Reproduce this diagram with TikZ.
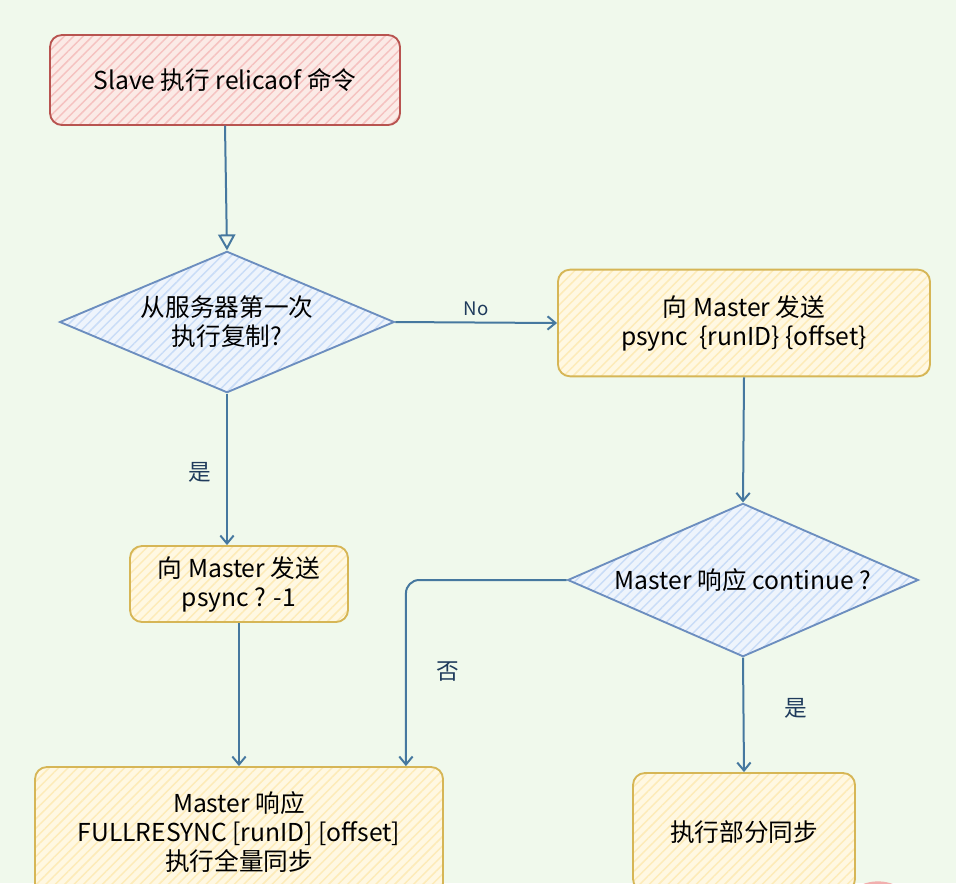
\documentclass[tikz,border=0pt]{standalone}
\usepackage{fontspec}
\setmainfont{Noto Sans CJK SC}
\usetikzlibrary{shapes.geometric,arrows.meta,patterns.meta,calc}
\definecolor{bg}{HTML}{F0F9EC}
\definecolor{redline}{HTML}{B85450}
\definecolor{redbase}{HTML}{FBEAE6}
\definecolor{redhatch}{HTML}{F5C2C0}
\definecolor{yelline}{HTML}{D6B656}
\definecolor{yelbase}{HTML}{FFF8E2}
\definecolor{yelhatch}{HTML}{FDEBB8}
\definecolor{blueline}{HTML}{6C8EBF}
\definecolor{bluebase}{HTML}{EEF4FC}
\definecolor{bluehatch}{HTML}{C9DCF7}
\definecolor{arrowc}{HTML}{46789F}
\definecolor{labelc}{HTML}{1F3B5C}
\definecolor{pinkc}{HTML}{F2AFAE}
\begin{document}
\begin{tikzpicture}[x=0.75pt,y=-0.75pt,
  txt/.style={font=\fontsize{18.5}{21.75}\selectfont, align=center, text=black},
  hatch/.style 2 args={preaction={fill=#1}, pattern={Lines[angle=45,distance=5pt,line width=1.1pt]}, pattern color=#2},
  redbox/.style={txt, draw=redline, line width=1.4pt, rounded corners=9pt, hatch={redbase}{redhatch}},
  yelbox/.style={txt, draw=yelline, line width=1.4pt, rounded corners=9pt, hatch={yelbase}{yelhatch}},
  decide/.style={txt, shape=diamond, draw=blueline, line width=1.4pt, inner sep=0pt, hatch={bluebase}{bluehatch}},
  conn/.style={draw=arrowc, line width=1.5pt, -{Straight Barb[length=6pt,width=10pt]}},
  lbl/.style={text=labelc, font=\fontsize{17}{20}\selectfont}
]
\fill[bg] (0,0) rectangle (956,883);
\useasboundingbox (0,0) rectangle (956,883);
\clip (0,0) rectangle (956,883);

\node[redbox, minimum width=262.5pt, minimum height=67.5pt] (start) at (225,80) {Slave 执行 relicaof 命令};

\node[decide, minimum width=251pt, minimum height=106pt, shape aspect=2.37] (d1) at (227,322) {从服务器第一次\\执行复制?};

\node[yelbox, minimum width=279pt, minimum height=80pt] (b2) at (744,323) {向 Master 发送\\psync\ \ \{runID\} \{offset\}};

\node[decide, minimum width=263pt, minimum height=115pt, shape aspect=2.29] (d2) at (743,580) {Master 响应 continue ?};

\node[yelbox, minimum width=163.5pt, minimum height=57pt] (b1) at (239,584) {向 Master 发送\\psync ? -1};

\node[yelbox, minimum width=306pt, minimum height=97.5pt] (b3) at (239,832) {Master 响应\\FULLRESYNC [runID] [offset]\\执行全量同步};

\node[yelbox, minimum width=166.5pt, minimum height=88.5pt] (b4) at (744,832) {执行部分同步};

\fill[pinkc] (878,924) circle[radius=32pt];

\draw[draw=arrowc, line width=1.5pt, -{Triangle[open,length=12pt,width=13pt]}] (start.south) -- (d1.north);
\draw[conn] (d1.east) -- node[lbl, above=1pt, font=\fontsize{14}{16}\selectfont] (no) {No} (b2.west);
\draw[conn] (b2.south) -- (d2.north);
\draw[conn] (d2.south) -- (b4.north);
\node[lbl] (yes2) at (796,708) {是};
\draw[conn, rounded corners=10pt] (d2.west) -| ($(b3.north east)+(-38,0)$);
\node[lbl] (no2) at (448,672) {否};
\draw[conn] (d1.south) -- (d1.south |- b1.north);
\node[lbl] (yes1) at (200,472) {是};
\draw[conn] (b1.south) -- (b1.south |- b3.north);
\end{tikzpicture}
\end{document}
